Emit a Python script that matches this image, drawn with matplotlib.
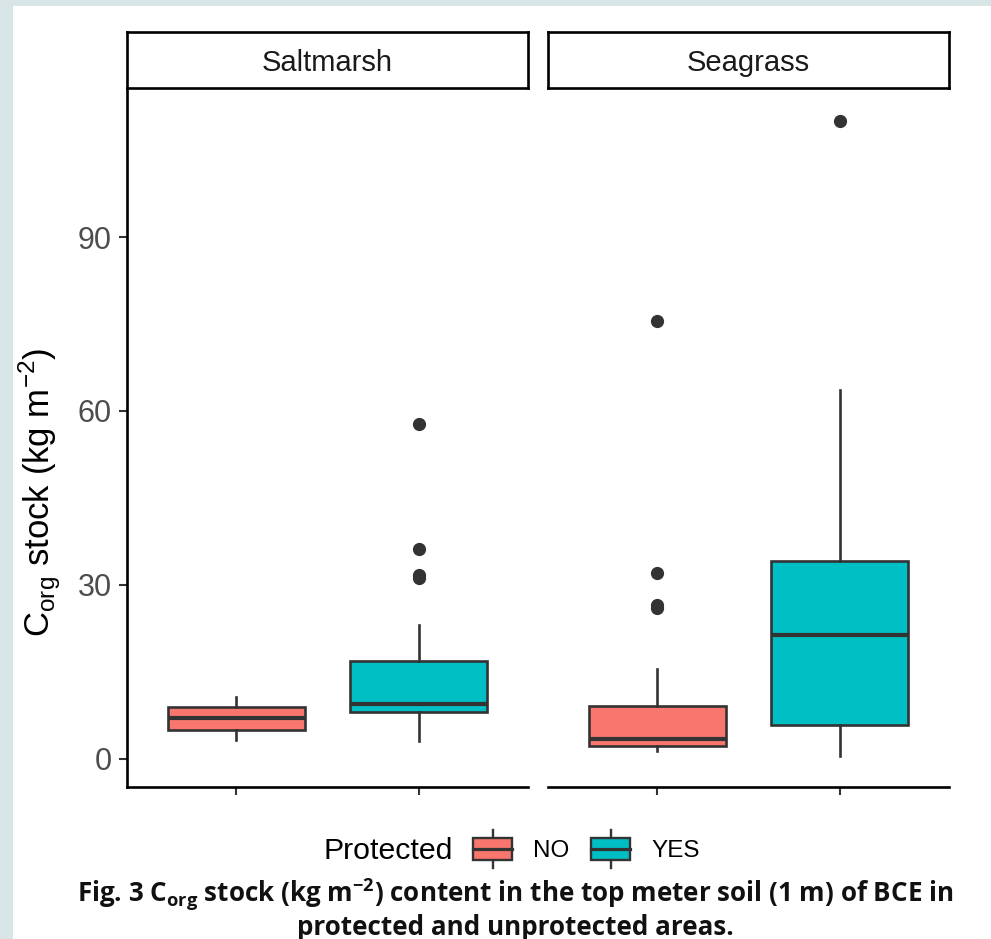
import matplotlib
matplotlib.use("Agg")
import matplotlib.pyplot as plt
from matplotlib.patches import Rectangle
from matplotlib.lines import Line2D

plt.rcParams['font.family'] = ['Liberation Sans', 'DejaVu Sans']
plt.rcParams['mathtext.fontset'] = 'custom'
plt.rcParams['mathtext.rm'] = 'Liberation Sans'
plt.rcParams['mathtext.bf'] = 'Open Sans:bold'

# ---------------- data ----------------
habitats = ['Saltmarsh', 'Seagrass']
groups = ['NO', 'YES']
colors = ['#F8766D', '#00BFC4']

saltmarsh_q1 = [5.0, 8.0]
saltmarsh_med = [7.1, 9.4]
saltmarsh_q3 = [9.0, 16.8]
saltmarsh_whislo = [3.3, 3.0]
saltmarsh_whishi = [10.7, 23.1]
saltmarsh_fliers = [[], [57.8, 36.2, 31.7, 31.2]]

seagrass_q1 = [2.2, 5.9]
seagrass_med = [3.4, 21.4]
seagrass_q3 = [9.2, 34.1]
seagrass_whislo = [1.3, 0.5]
seagrass_whishi = [15.5, 63.6]
seagrass_fliers = [[75.5, 32.0, 26.5, 26.0], [110.0]]

y_ticks = [0, 30, 60, 90]
y_label = r"C$_{\mathrm{org}}$ stock (kg m$^{\mathrm{-2}}$)"
legend_title = 'Protected'
caption = (r"Fig. 3 C$_{\mathbf{org}}$ stock (kg m$^{\mathbf{-2}}$) content in the top meter soil (1 m) of BCE in"
           "\nprotected and unprotected areas.")

panel_data = {
    'Saltmarsh': (saltmarsh_q1, saltmarsh_med, saltmarsh_q3, saltmarsh_whislo, saltmarsh_whishi, saltmarsh_fliers),
    'Seagrass': (seagrass_q1, seagrass_med, seagrass_q3, seagrass_whislo, seagrass_whishi, seagrass_fliers),
}

# ---------------- figure ----------------
W, H = 991, 939
fig = plt.figure(figsize=(W / 100, H / 100), dpi=100)
fig.patch.set_facecolor('#d8e5e7')
fig.add_artist(Rectangle((13 / W, 0), 1, 1 - 6 / H, transform=fig.transFigure,
                         facecolor='white', edgecolor='none', zorder=0))

line_col = '#333333'
panel_lefts = [127, 548]
panel_w = 401
p_top, p_bot = 88, 787

for i, hab in enumerate(habitats):
    q1, med, q3, wlo, whi, fl = panel_data[hab]
    ax = fig.add_axes([panel_lefts[i] / W, 1 - p_bot / H, panel_w / W, (p_bot - p_top) / H])
    ax.set_facecolor('none')
    stats = []
    for j in range(len(groups)):
        stats.append(dict(q1=q1[j], med=med[j], q3=q3[j], whislo=wlo[j], whishi=whi[j],
                          fliers=fl[j], label=groups[j]))
    bp = ax.bxp(stats, positions=list(range(len(groups))), widths=0.75, patch_artist=True,
                showcaps=False,
                boxprops=dict(edgecolor=line_col, linewidth=1.9),
                medianprops=dict(color=line_col, linewidth=3.0),
                whiskerprops=dict(color=line_col, linewidth=1.9),
                flierprops=dict(marker='o', markerfacecolor=line_col, markeredgecolor=line_col,
                                markersize=8.5, linestyle='none'))
    for patch, c in zip(bp['boxes'], colors):
        patch.set_facecolor(c)
    ax.set_xlim(-0.6, 1.6)
    ax.set_ylim(-4.85, 115.7)
    ax.set_xticks(range(len(groups)))
    ax.set_xticklabels([])
    for s in ['top', 'right']:
        ax.spines[s].set_visible(False)
    ax.spines['bottom'].set_linewidth(1.9)
    ax.spines['bottom'].set_color('black')
    ax.tick_params(axis='x', length=6, width=1.5, color=line_col)
    if i == 0:
        ax.spines['left'].set_linewidth(1.9)
        ax.spines['left'].set_color('black')
        ax.set_yticks(y_ticks)
        ax.tick_params(axis='y', length=6, width=1.5, color=line_col, labelsize=22,
                       labelcolor='#4d4d4d', pad=5)
    else:
        ax.spines['left'].set_visible(False)
        ax.set_yticks([])

    # strip
    sax = fig.add_axes([panel_lefts[i] / W, 1 - p_top / H, panel_w / W, 56 / H])
    sax.set_facecolor('white')
    sax.set_xticks([]); sax.set_yticks([])
    for s in sax.spines.values():
        s.set_linewidth(1.9)
        s.set_color('black')
    sax.text(0.5, 0.45, hab, ha='center', va='center', fontsize=21, color='#1a1a1a',
             transform=sax.transAxes)

# y label
fig.text(40 / W, 1 - 492 / H, y_label, rotation=90, ha='center', va='center',
         fontsize=25, color='black')

# legend (manual, pixel-space overlay)
lax = fig.add_axes([0, 0, 1, 1])
lax.set_xlim(0, W); lax.set_ylim(H, 0)
lax.axis('off')
lax.set_facecolor('none')
lax.text(323, 851, legend_title, ha='left', va='center', fontsize=21.8, color='black')
key_x = [473, 591]
for kx, c, lab in zip(key_x, colors, groups):
    cx = kx + 19.5
    lax.add_line(Line2D([cx, cx], [830, 868], color=line_col, linewidth=1.7, zorder=1))
    lax.add_patch(Rectangle((kx, 838), 39, 22, facecolor=c, edgecolor=line_col, linewidth=1.7, zorder=2))
    lax.add_line(Line2D([kx, kx + 39], [849, 849], color=line_col, linewidth=2.3, zorder=3))
    lax.text(kx + 60, 851, lab, ha='left', va='center', fontsize=17.5, color='black')

# caption
cap = lax.text(515, 909, caption, ha='center', va='center', fontsize=14, fontweight='bold',
               family='Open Sans', color='#111111', linespacing=1.08, multialignment='center')
fig.canvas.draw()
r = fig.canvas.get_renderer()
bb = cap.get_window_extent(r)
cap.set_fontsize(14 * 880 / bb.width)

fig.savefig('out.png', dpi=100, facecolor=fig.get_facecolor())
